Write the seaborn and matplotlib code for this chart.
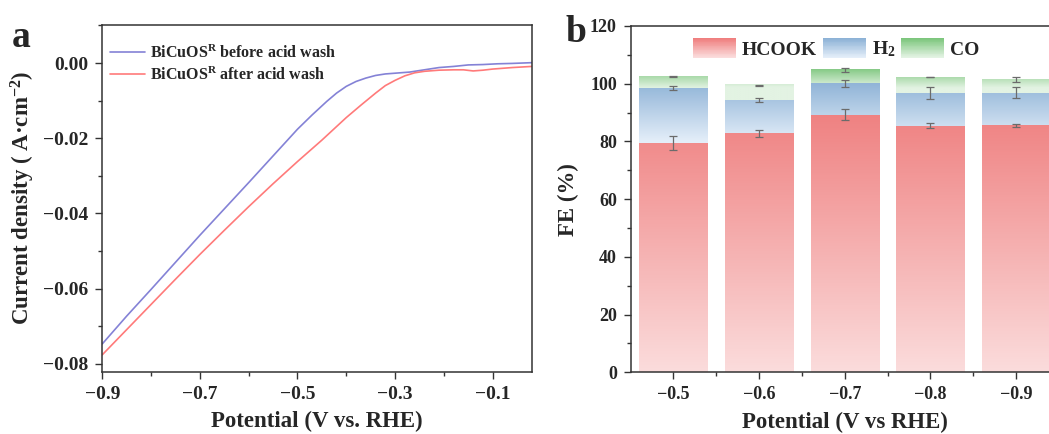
import numpy as np
import pandas as pd
import matplotlib
matplotlib.use("Agg")
import matplotlib.pyplot as plt
import seaborn as sns
from matplotlib.colors import LinearSegmentedColormap, Normalize
from matplotlib.legend_handler import HandlerBase
from matplotlib.patches import Rectangle
from matplotlib.ticker import MultipleLocator, FixedLocator

# ---------------- data ----------------
# (a) linear sweep voltammetry
potential_before = [-0.90, -0.85, -0.80, -0.75, -0.70, -0.65, -0.60, -0.55, -0.50, -0.47,
                    -0.44, -0.42, -0.40, -0.38, -0.36, -0.34, -0.32, -0.30, -0.27, -0.24,
                    -0.21, -0.18, -0.15, -0.12, -0.09, -0.06, -0.02]
current_before = [-0.0747, -0.0673, -0.0602, -0.0530, -0.0458, -0.0388, -0.0318, -0.0247,
                  -0.0176, -0.0138, -0.0102, -0.0080, -0.0062, -0.0049, -0.0040, -0.0033,
                  -0.0029, -0.0027, -0.0024, -0.0018, -0.0012, -0.0009, -0.0005, -0.0004,
                  -0.0002, -0.0001, 0.0001]
potential_after = [-0.90, -0.85, -0.80, -0.75, -0.70, -0.65, -0.60, -0.55, -0.50, -0.45,
                   -0.40, -0.37, -0.34, -0.32, -0.30, -0.28, -0.26, -0.24, -0.21, -0.18,
                   -0.16, -0.14, -0.12, -0.10, -0.06, -0.02]
current_after = [-0.0776, -0.0709, -0.0642, -0.0575, -0.0509, -0.0445, -0.0382, -0.0321,
                 -0.0262, -0.0205, -0.0145, -0.0112, -0.0080, -0.0060, -0.0046, -0.0034,
                 -0.0026, -0.0022, -0.0019, -0.0018, -0.0018, -0.0021, -0.0019, -0.0016,
                 -0.0012, -0.0009]
lsv_labels = ["BiCuOS$^{\\mathrm{R}}$ before acid wash", "BiCuOS$^{\\mathrm{R}}$ after acid wash"]

# (b) Faradaic efficiency
potentials = ["\u22120.5", "\u22120.6", "\u22120.7", "\u22120.8", "\u22120.9"]
fe_hcook = [79.5, 82.9, 89.3, 85.4, 85.6]
fe_h2 = [19.1, 11.4, 10.8, 11.4, 11.2]
fe_co = [3.9, 5.2, 4.8, 5.5, 4.6]
err_hcook = [2.5, 1.2, 1.8, 0.9, 0.6]
err_h2 = [0.7, 0.8, 1.3, 2.1, 1.9]
err_co = [0.2, 0.2, 0.7, 0.1, 0.9]
product_labels = ["HCOOK", "H$_2$", "CO"]

# ---------------- style ----------------
sns.set_theme(style="ticks")
plt.rcParams["font.family"] = ["Liberation Serif", "DejaVu Serif"]
plt.rcParams["font.weight"] = "bold"
plt.rcParams["axes.labelweight"] = "bold"
plt.rcParams["mathtext.fontset"] = "custom"
plt.rcParams["mathtext.rm"] = "Liberation Serif:bold"
plt.rcParams["mathtext.bf"] = "Liberation Serif:bold"
plt.rcParams["mathtext.it"] = "Liberation Serif:bold:italic"
plt.rcParams["axes.unicode_minus"] = True

LABEL_FS = 16.5
spine_color = "#333333"

fig = plt.figure(figsize=(10.49, 4.34), dpi=100)
ax_a = fig.add_axes([0.0975, 0.1435, 0.4094, 0.7996])
ax_b = fig.add_axes([0.6012, 0.1422, 0.4082, 0.7979])


def style_axes(ax, tick_fs):
    for s in ax.spines.values():
        s.set_visible(True)
        s.set_color(spine_color)
        s.set_linewidth(1.1)
    ax.tick_params(which="both", direction="out", color=spine_color, width=1.0,
                   top=False, right=False, labelsize=tick_fs, pad=5)
    ax.tick_params(which="major", length=5)
    ax.tick_params(which="minor", length=3)
    for lab in ax.get_xticklabels() + ax.get_yticklabels():
        lab.set_fontweight("bold")


# ---------------- (a) ----------------
blue_line = "#8482d6"
red_line = "#ff7a7a"
sns.lineplot(x=potential_before, y=current_before, ax=ax_a, color=blue_line,
             lw=1.2, label=lsv_labels[0], estimator=None, sort=False)
sns.lineplot(x=potential_after, y=current_after, ax=ax_a, color=red_line,
             lw=1.2, label=lsv_labels[1], estimator=None, sort=False)
ax_a.set_xlim(-0.9, -0.02)
ax_a.set_ylim(-0.0821, 0.0102)
ax_a.xaxis.set_major_locator(FixedLocator([-0.9, -0.7, -0.5, -0.3, -0.1]))
ax_a.xaxis.set_minor_locator(MultipleLocator(0.1))
ax_a.yaxis.set_major_locator(FixedLocator([-0.08, -0.06, -0.04, -0.02, 0.0]))
ax_a.yaxis.set_minor_locator(MultipleLocator(0.01))
ax_a.set_xticklabels(["\u22120.9", "\u22120.7", "\u22120.5", "\u22120.3", "\u22120.1"])
ax_a.set_yticklabels(["\u22120.08", "\u22120.06", "\u22120.04", "\u22120.02", "0.00"])
ax_a.set_xlabel("Potential (V vs. RHE)", fontsize=LABEL_FS, fontweight="bold", labelpad=6)
ax_a.set_ylabel("Current density ( A\u00b7cm$^{\u22122}$)", fontsize=LABEL_FS,
                fontweight="bold", labelpad=4)
style_axes(ax_a, 14)
ax_a.legend(loc="upper left", bbox_to_anchor=(-0.005, 0.97), frameon=False,
            prop={"family": "Liberation Serif", "weight": "bold", "size": 11.5},
            handlelength=2.2, handletextpad=0.3, labelspacing=0.3,
            borderaxespad=0.2)

# ---------------- (b) ----------------
# gradient ends (light, dark) and the FE range over which each colour ramps
hcook_ramp = ("#fbdcdc", "#ef7f7f", 0.0, 92.0)
h2_ramp = ("#e4eef9", "#8db2d6", 80.0, 101.0)
co_ramp = ("#e3f3e3", "#7dc67d", 98.5, 105.5)

df = pd.DataFrame({"potential": potentials, "HCOOK": fe_hcook, "H2": fe_h2, "CO": fe_co})
bottom_h2 = np.array(fe_hcook)
bottom_co = bottom_h2 + np.array(fe_h2)

layers = [
    ("HCOOK", np.zeros(len(potentials)), hcook_ramp, err_hcook),
    ("H2", bottom_h2, h2_ramp, err_h2),
    ("CO", bottom_co, co_ramp, err_co),
]

for name, bottoms, ramp, errs in layers:
    n_before = len(ax_b.patches)
    sns.barplot(data=df, x="potential", y=name, order=potentials, ax=ax_b,
                bottom=bottoms, width=0.8, errorbar=None, color=ramp[1],
                linewidth=0, zorder=1)
    cmap = LinearSegmentedColormap.from_list(name, [ramp[0], ramp[1]])
    norm = Normalize(vmin=ramp[2], vmax=ramp[3], clip=True)
    for patch in ax_b.patches[n_before:]:
        x0, y0 = patch.get_x(), patch.get_y()
        w, h = patch.get_width(), patch.get_height()
        grad = np.linspace(y0 + h, y0, 200).reshape(-1, 1)
        ax_b.imshow(grad, cmap=cmap, norm=norm, aspect="auto",
                    extent=(x0, x0 + w, y0, y0 + h), zorder=2, interpolation="bilinear")
        patch.set_alpha(0.0)
    tops = bottoms + df[name].to_numpy()
    ax_b.errorbar(np.arange(len(potentials)), tops, yerr=errs, fmt="none",
                  ecolor="#6b6b6b", elinewidth=0.9, capsize=3.2, capthick=0.9, zorder=3)

ax_b.set_xlim(-0.5, 4.5)
ax_b.set_ylim(0, 120)
ax_b.yaxis.set_major_locator(MultipleLocator(20))
ax_b.yaxis.set_minor_locator(MultipleLocator(10))
ax_b.xaxis.set_minor_locator(FixedLocator([0.5, 1.5, 2.5, 3.5]))
ax_b.set_xlabel("Potential (V vs RHE)", fontsize=LABEL_FS, fontweight="bold", labelpad=6)
ax_b.set_ylabel("FE (%)", fontsize=LABEL_FS, fontweight="bold", labelpad=8)
style_axes(ax_b, 13)


class GradientHandler(HandlerBase):
    def __init__(self, light, dark, n=24):
        super().__init__()
        self.light, self.dark, self.n = light, dark, n

    def create_artists(self, legend, orig_handle, xdescent, ydescent, width, height,
                       fontsize, trans):
        cmap = LinearSegmentedColormap.from_list("g", [self.light, self.dark])
        artists = []
        for i in range(self.n):
            frac = i / (self.n - 1)
            r = Rectangle((-xdescent, -ydescent + height * i / self.n), width,
                          height / self.n + 0.3, facecolor=cmap(frac), edgecolor="none",
                          transform=trans)
            artists.append(r)
        return artists


handles = [Rectangle((0, 0), 1, 1) for _ in range(3)]
handler_map = {handles[0]: GradientHandler(hcook_ramp[0], hcook_ramp[1]),
               handles[1]: GradientHandler(h2_ramp[0], h2_ramp[1]),
               handles[2]: GradientHandler(co_ramp[0], co_ramp[1])}
ax_b.legend(handles, product_labels, handler_map=handler_map, loc="upper center",
            bbox_to_anchor=(0.48, 1.015), ncol=3, frameon=False,
            prop={"family": "Liberation Serif", "weight": "bold", "size": 14},
            handlelength=2.2, handleheight=1.15, handletextpad=0.3, columnspacing=0.3)

# panel letters
fig.text(0.011, 0.955, "a", fontsize=27, fontweight="bold", va="top", ha="left")
fig.text(0.539, 0.965, "b", fontsize=27, fontweight="bold", va="top", ha="left")

fig.savefig("out.png", dpi=100)
